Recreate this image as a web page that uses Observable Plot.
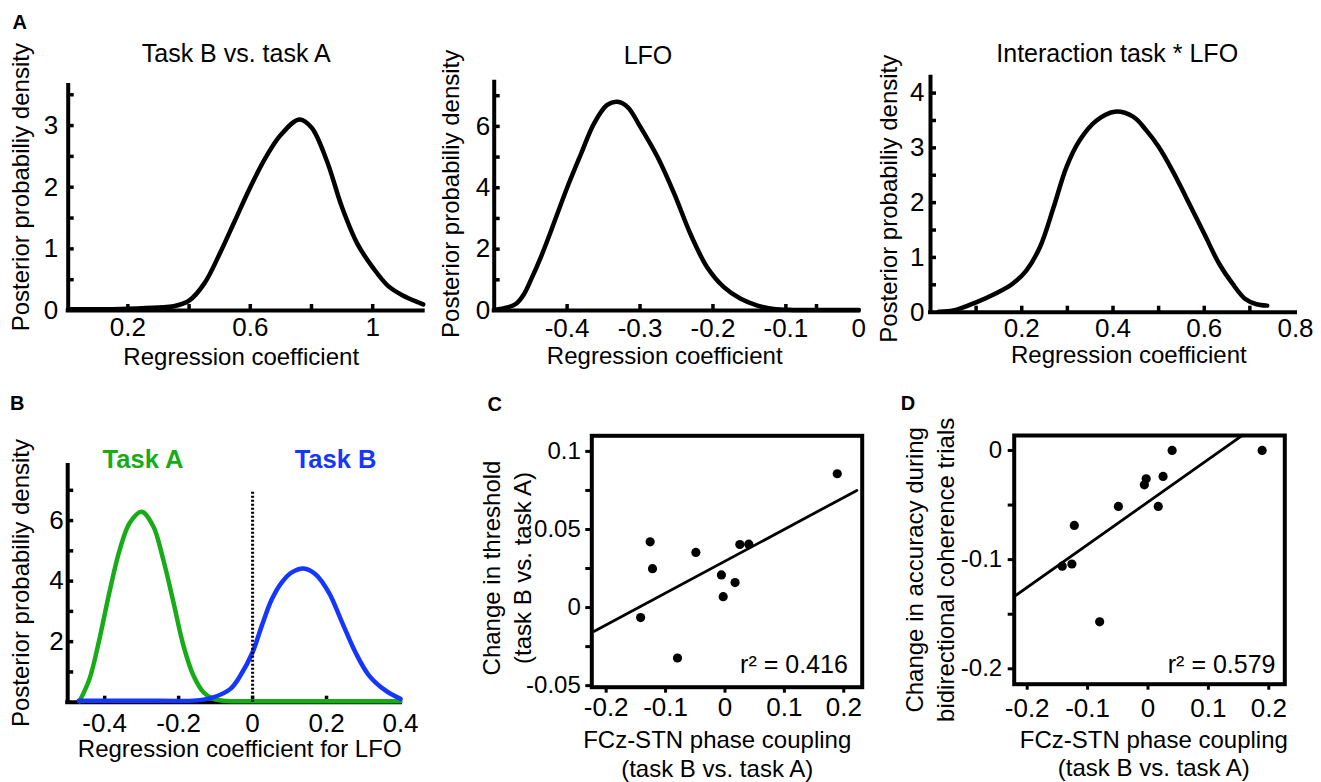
<!DOCTYPE html>
<html><head><meta charset="utf-8">
<script src="https://cdn.jsdelivr.net/npm/d3@7"></script>
<script src="https://cdn.jsdelivr.net/npm/@observablehq/plot@0.6"></script>
<style>
html,body{margin:0;padding:0;background:#fff;}
#fig{position:relative;width:1321px;height:782px;overflow:hidden;background:#fff;}
#fig svg{position:absolute;overflow:visible;background:transparent;}
</style></head>
<body><div id="fig"></div>
<script>
// ---------------- DATA ----------------
// Panel A (left): Task B vs. task A
const taskVsCoef = [0.005, 0.1, 0.2, 0.3, 0.35, 0.4, 0.45, 0.5, 0.55, 0.6, 0.65, 0.7, 0.76, 0.8, 0.85, 0.9, 0.95, 1.0, 1.05, 1.1, 1.15, 1.165];
const taskVsDens = [0.02, 0.02, 0.03, 0.05, 0.07, 0.16, 0.44, 0.92, 1.46, 2.0, 2.48, 2.85, 3.1, 2.97, 2.43, 1.67, 1.08, 0.7, 0.4, 0.24, 0.13, 0.1];
// Panel A (middle): LFO
const lfoCoef = [-0.5, -0.482, -0.47, -0.459, -0.45, -0.436, -0.422, -0.4, -0.381, -0.363, -0.345, -0.331, -0.317, -0.3, -0.276, -0.253, -0.231, -0.208, -0.185, -0.162, -0.139, -0.117, -0.09, -0.05, 0];
const lfoDens = [0.02, 0.1, 0.22, 0.54, 0.98, 1.74, 2.6, 4.0, 5.1, 6.1, 6.7, 6.8, 6.63, 6.0, 5.0, 3.8, 2.5, 1.41, 0.76, 0.38, 0.16, 0.05, 0.02, 0.02, 0.02];
// Panel A (right): Interaction task * LFO
const interCoef = [0.018, 0.05, 0.1, 0.145, 0.18, 0.21, 0.24, 0.27, 0.298, 0.327, 0.364, 0.404, 0.444, 0.473, 0.5, 0.53, 0.56, 0.6, 0.633, 0.662, 0.69, 0.713, 0.738];
const interDens = [0.01, 0.03, 0.18, 0.35, 0.52, 0.76, 1.19, 1.92, 2.65, 3.14, 3.5, 3.66, 3.57, 3.32, 3.02, 2.59, 2.1, 1.43, 0.88, 0.52, 0.24, 0.15, 0.12];
// Panel B: Task A (green), Task B (blue)
const taskACoef = [-0.468, -0.441, -0.414, -0.386, -0.359, -0.332, -0.3, -0.269, -0.242, -0.214, -0.187, -0.16, -0.133, -0.106, -0.08, 0, 0.2, 0.4];
const taskADens = [0.03, 0.77, 2.1, 3.7, 5.05, 5.93, 6.29, 5.82, 4.73, 3.3, 1.87, 0.88, 0.33, 0.11, 0.05, 0.03, 0.03, 0.03];
const taskBCoef = [-0.47, -0.3, -0.15, -0.106, -0.06, -0.033, 0, 0.025, 0.052, 0.079, 0.106, 0.138, 0.17, 0.206, 0.242, 0.278, 0.315, 0.36, 0.4];
const taskBDens = [0.05, 0.05, 0.06, 0.16, 0.44, 0.88, 1.65, 2.53, 3.4, 3.96, 4.29, 4.42, 4.23, 3.63, 2.64, 1.65, 0.88, 0.38, 0.11];
const zeroLineTop = 7;
// Panels C and D: per-subject values
const phaseCoupling   = [0.189, -0.126, -0.122, -0.049, 0.025, 0.040, -0.006, 0.017, -0.003, -0.142, -0.080];
const thresholdChange = [0.0857, 0.0421, 0.0249, 0.0353, 0.0404, 0.0406, 0.0209, 0.016, 0.007, -0.0064, -0.0323];
const accuracyChange  = [0, -0.104, -0.0687, -0.0513, -0.0238, 0, -0.0315, -0.0513, -0.026, -0.106, -0.157];
const fitRange = [-0.22, 0.222];
const r2C = "0.416", r2D = "0.579";
// Tick values / labels
const a1XTicks = [0.2, 0.4, 0.6, 0.8, 1.0], a1XLabels = [0.2, 0.6, 1];
const a1YTicks = [0.5, 1, 1.5, 2, 2.5, 3, 3.5], a1YLabels = [0, 1, 2, 3];
const a2XTicks = [-0.4, -0.3, -0.2, -0.1, -0.058], a2XLabels = [-0.4, -0.3, -0.2, -0.1, 0];
const a2YTicks = [1, 2, 3, 4, 5, 6, 7], a2YLabels = [0, 2, 4, 6];
const a3XTicks = [0.1, 0.2, 0.3, 0.4, 0.5, 0.6, 0.7], a3XLabels = [0.2, 0.4, 0.6, 0.8];
const a3YTicks = [0.5, 1, 1.5, 2, 2.5, 3, 3.5, 4], a3YLabels = [0, 1, 2, 3, 4];
const bXTicks = [-0.4, -0.2, 0, 0.2], bXLabels = [-0.4, -0.2, 0, 0.2, 0.4];
const bYTicks = [1, 2, 3, 4, 5, 6, 7], bYLabels = [2, 4, 6];
const cdXTicks = [-0.2, -0.1, 0, 0.1, 0.2];
const cYTicks = [-0.05, -0.025, 0, 0.025, 0.05, 0.075, 0.1], cYLabels = [-0.05, 0, 0.05, 0.1];
const dYTicks = [-0.2, -0.15, -0.1, -0.05, 0], dYLabels = [-0.2, -0.1, 0];

// ---------------- HELPERS ----------------
const FONT = '"Liberation Sans", Arial, Helvetica, sans-serif';
const GREEN = "#17ac17", BLUE = "#1436ff";
const fig = document.getElementById("fig");

function build(box, frame, xDomain, yDomain, marks) {
  const [L, T, W, H] = box, [x0, y0, x1, y1] = frame;
  const svg = Plot.plot({
    width: W, height: H,
    marginLeft: x0 - L, marginTop: y0 - T, marginRight: L + W - x1, marginBottom: T + H - y1,
    x: {domain: xDomain}, y: {domain: yDomain},
    style: {fontFamily: FONT, fontSize: "24px", color: "black", background: "transparent", overflow: "visible"},
    marks: marks({fw: x1 - x0, fh: y1 - y0})
  });
  svg.style.left = L + "px"; svg.style.top = T + "px";
  fig.appendChild(svg);
}
const fmt = d => String(d);
const TICK = 26;
const inTicksX = (v, fh) => Plot.tickX(v, {x: d => d, insetTop: fh - 6, strokeWidth: 3.5});
const inTicksY = (v, fw) => Plot.tickY(v, {y: d => d, insetRight: fw - 6, strokeWidth: 3.5});
const outTicksX = (v, fh) => Plot.tickX(v, {x: d => d, insetTop: fh, insetBottom: -6, strokeWidth: 3});
const outTicksY = (v, fw) => Plot.tickY(v, {y: d => d, insetLeft: -6, insetRight: fw, strokeWidth: 3});
const xLab = (v, pad, size = TICK) => Plot.axisX(v, {tickSize: 0, tickPadding: pad, tickFormat: fmt, fontSize: size, label: null});
const yLab = (v, pad, size = TICK) => Plot.axisY(v, {tickSize: 0, tickPadding: pad, tickFormat: fmt, fontSize: size, label: null});
const txt = (s, o) => Plot.text([s], {fontSize: 24, textAnchor: "middle", lineAnchor: "middle", ...o});
function ols(xs, ys) {
  const mx = d3.mean(xs), my = d3.mean(ys);
  const b = d3.sum(xs, (x, i) => (x - mx) * (ys[i] - my)) / d3.sum(xs, x => (x - mx) ** 2);
  const a = my - b * mx;
  return fitRange.map(x => ({x, y: a + b * x}));
}
const yTitle = "Posterior probabiliy density";
const xTitle = "Regression coefficient";
const LETTER = {fontWeight: "bold", fontSize: 20};

// ---------------- PANEL A ----------------
const a1X = [0.005, 1.165], a1Y = [0, 3.65];
build([0, 0, 440, 385], [67.7, 85, 422.7, 310], a1X, a1Y, ({fw, fh}) => [
  Plot.ruleY([a1Y[0]], {strokeWidth: 4, strokeLinecap: "square"}),
  Plot.ruleX([a1X[0]], {strokeWidth: 4, strokeLinecap: "square"}),
  inTicksX(a1XTicks, fh), inTicksY(a1YTicks, fw),
  xLab(a1XLabels, 7), yLab(a1YLabels, 10),
  Plot.line(taskVsCoef, {x: taskVsCoef, y: taskVsDens, curve: "catmull-rom", strokeWidth: 4.5}),
  txt("Task B vs. task A", {frameAnchor: "top", dx: -9.5, dy: -31.3, fontSize: 25}),
  txt(yTitle, {frameAnchor: "left", rotate: -90, dx: -47, dy: -10.8}),
  txt(xTitle, {frameAnchor: "bottom", dx: -4.5, dy: 47.3}),
  txt("A", {frameAnchor: "top-left", dx: -48.5, dy: -62.6, ...LETTER})
]);

const a2X = [-0.5, 0], a2Y = [0, 7.44];
build([440, 0, 440, 385], [493.7, 81.7, 858.3, 310], a2X, a2Y, ({fw, fh}) => [
  Plot.ruleY([a2Y[0]], {strokeWidth: 4, strokeLinecap: "square"}),
  Plot.ruleX([a2X[0]], {strokeWidth: 4, strokeLinecap: "square"}),
  inTicksX(a2XTicks, fh), inTicksY(a2YTicks, fw),
  xLab(a2XLabels, 8), yLab(a2YLabels, 4),
  Plot.line(lfoCoef, {x: lfoCoef, y: lfoDens, curve: "catmull-rom", strokeWidth: 4.5}),
  txt("LFO", {frameAnchor: "top", dx: -28.5, dy: -26.4, fontSize: 25}),
  txt(yTitle, {frameAnchor: "left", rotate: -90, dx: -43, dy: -2.5}),
  txt(xTitle, {frameAnchor: "bottom", dx: -11.8, dy: 45.6})
]);

const a3X = [0, 0.8], a3Y = [0, 4.29];
build([880, 0, 441, 385], [930, 76.7, 1295, 311.7], a3X, a3Y, ({fw, fh}) => [
  Plot.ruleY([a3Y[0]], {strokeWidth: 4, strokeLinecap: "square"}),
  Plot.ruleX([a3X[0]], {strokeWidth: 4, strokeLinecap: "square"}),
  inTicksX(a3XTicks, fh), inTicksY(a3YTicks, fw),
  xLab(a3XLabels, 6), yLab(a3YLabels, 6),
  Plot.line(interCoef, {x: interCoef, y: interDens, curve: "catmull-rom", strokeWidth: 4.5}),
  txt("Interaction task * LFO", {frameAnchor: "top", dx: 4.2, dy: -23, fontSize: 25}),
  txt(yTitle, {frameAnchor: "left", rotate: -90, dx: -41, dy: 4.1}),
  txt(xTitle, {frameAnchor: "bottom", dx: 15.8, dy: 43.6})
]);

// ---------------- PANEL B ----------------
const bX = [-0.5, 0.4], bY = [0, 7.82];
build([0, 385, 440, 397], [67.2, 465, 400, 701.7], bX, bY, ({fw, fh}) => [
  Plot.ruleY([bY[0]], {strokeWidth: 4, strokeLinecap: "square"}),
  Plot.ruleX([bX[0]], {strokeWidth: 4, strokeLinecap: "square"}),
  inTicksX(bXTicks, fh), inTicksY(bYTicks, fw),
  xLab(bXLabels, 11), yLab(bYLabels, 4),
  Plot.line(taskACoef, {x: taskACoef, y: taskADens, curve: "catmull-rom", stroke: GREEN, strokeWidth: 4.5}),
  Plot.line(taskBCoef, {x: taskBCoef, y: taskBDens, curve: "catmull-rom", stroke: BLUE, strokeWidth: 4.5}),
  Plot.ruleX([0], {y1: 0, y2: zeroLineTop, strokeWidth: 3, strokeDasharray: "2,2"}),
  txt("Task A", {frameAnchor: "top-left", dx: 75.3, dy: -6, fill: GREEN, fontWeight: "bold", fontSize: 25.5}),
  txt("Task B", {frameAnchor: "top-left", dx: 267.8, dy: -6, fill: BLUE, fontWeight: "bold", fontSize: 25.5}),
  txt(yTitle, {frameAnchor: "left", rotate: -90, dx: -46.6, dy: -0.8}),
  txt("Regression coefficient for LFO", {frameAnchor: "bottom", dx: 5.6, dy: 47.3}),
  txt("B", {frameAnchor: "top-left", dx: -50.5, dy: -61.9, ...LETTER})
]);

// ---------------- PANEL C ----------------
const xLine2 = "FCz-STN phase coupling\n(task B vs. task A)";
build([440, 385, 440, 397], [591.3, 435.3, 861.7, 686.7], [-0.2242, 0.231], [-0.051, 0.110], ({fw, fh}) => [
  outTicksX(cdXTicks, fh), outTicksY(cYTicks, fw),
  Plot.frame({strokeWidth: 4}),
  xLab(cdXTicks, 10, 26), yLab(cYLabels, 11, 24),
  Plot.line(ols(phaseCoupling, thresholdChange), {x: "x", y: "y", strokeWidth: 2.8, clip: true}),
  Plot.dot(phaseCoupling, {x: phaseCoupling, y: thresholdChange, r: 4.6, fill: "black"}),
  txt("r\u00b2 = " + r2C, {frameAnchor: "bottom-right", dx: -14.4, dy: -22.7, textAnchor: "end", fontSize: 25}),
  txt("Change in threshold\n(task B vs. task A)", {frameAnchor: "left", rotate: -90, dx: -86.6, dy: 6.5, lineHeight: 1.3}),
  txt(xLine2, {frameAnchor: "bottom", dx: -9.8, dy: 66.3, lineHeight: 1.17}),
  txt("C", {frameAnchor: "top-left", dx: -97.1, dy: -31.3, ...LETTER})
]);

// ---------------- PANEL D ----------------
build([880, 385, 441, 397], [1013.7, 435, 1284.3, 683.7], [-0.2215, 0.2265], [-0.2141, 0.0137], ({fw, fh}) => [
  outTicksX(cdXTicks, fh), outTicksY(dYTicks, fw),
  Plot.frame({strokeWidth: 4}),
  xLab(cdXTicks, 14, 26), yLab(dYLabels, 12, 24),
  Plot.line(ols(phaseCoupling, accuracyChange), {x: "x", y: "y", strokeWidth: 2.8, clip: true}),
  Plot.dot(phaseCoupling, {x: phaseCoupling, y: accuracyChange, r: 4.6, fill: "black"}),
  txt("r\u00b2 = " + r2D, {frameAnchor: "bottom-right", dx: -9.3, dy: -19, textAnchor: "end", fontSize: 25}),
  txt("Change in accuracy during\nbidirectional coherence trials", {frameAnchor: "left", rotate: -90, dx: -85.5, dy: 10, lineHeight: 1.3}),
  txt(xLine2, {frameAnchor: "bottom", dx: 4.3, dy: 68.6, lineHeight: 1.17}),
  txt("D", {frameAnchor: "top-left", dx: -106.2, dy: -31.9, ...LETTER})
]);
</script></body></html>
